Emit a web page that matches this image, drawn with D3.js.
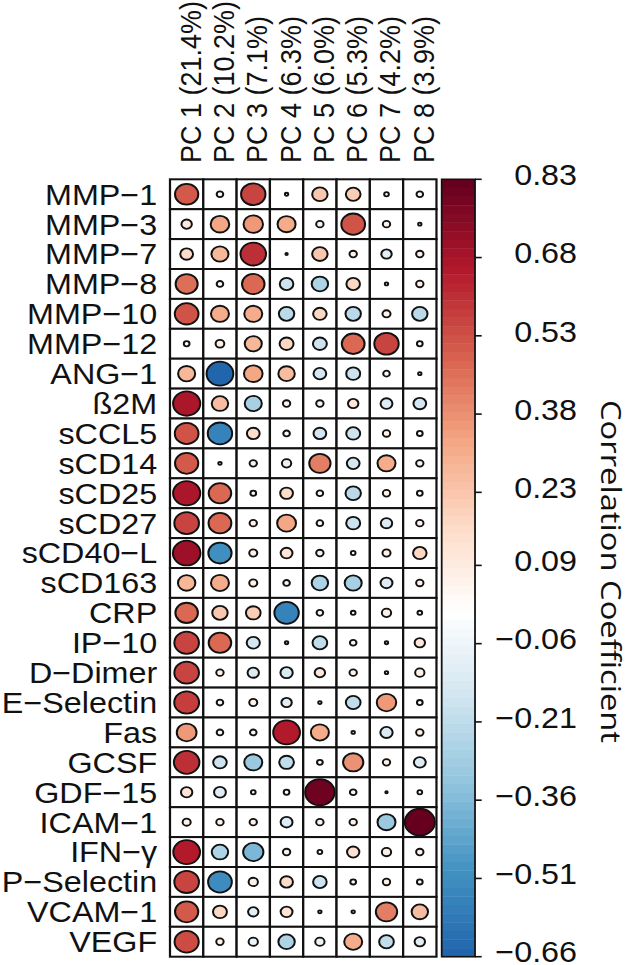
<!DOCTYPE html>
<html lang="en">
<head>
<meta charset="UTF-8">
<title>Marker loadings on principal components</title>
<script src="https://d3js.org/d3.v7.min.js"></script>
<style>
  body { margin: 0; background: #fff; }
  text { font-family: "Liberation Sans", Arial, sans-serif; fill: #111; }
  .cell { fill: #fff; stroke: #111; stroke-width: 2; }
  .dot { stroke: #111; stroke-width: 1.8; }
  .cbar-box { fill: none; stroke: #111; stroke-width: 1.6; }
  .cbar-tick { stroke: #111; stroke-width: 1.6; }
  .label { font-size: 29px; }
  .col-label { font-size: 27px; }
  .cbar-title { font-family: "Open Sans", sans-serif; font-size: 24px; }
</style>
</head>
<body>
<div id="chart"></div>
<script>
// markers (rows) and components (columns)
const markers = ["MMP\u22121", "MMP\u22123", "MMP\u22127", "MMP\u22128", "MMP\u221210", "MMP\u221212",
  "ANG\u22121", "\u00df2M", "sCCL5", "sCD14", "sCD25", "sCD27", "sCD40\u2212L", "sCD163", "CRP",
  "IP\u221210", "D\u2212Dimer", "E\u2212Selectin", "Fas", "GCSF", "GDF\u221215", "ICAM\u22121",
  "IFN\u2212\u03b3", "P\u2212Selectin", "VCAM\u22121", "VEGF"];
const components = ["PC 1 (21.4%)", "PC 2 (10.2%)", "PC 3 (7.1%)", "PC 4 (6.3%)",
  "PC 5 (6.0%)", "PC 6 (5.3%)", "PC 7 (4.2%)", "PC 8 (3.9%)"];

// correlation of each marker with each component
const pc1 = [0.50, 0.10, 0.15, 0.45, 0.52, 0.03, 0.27, 0.68, 0.52, 0.50, 0.68, 0.56, 0.70, 0.28, 0.47, 0.56, 0.56, 0.57, 0.36, 0.60, 0.12, 0.06, 0.66, 0.56, 0.50, 0.54];
const pc2 = [0.04, 0.32, 0.27, 0.04, 0.30, 0.07, -0.66, 0.25, -0.55, 0.01, 0.47, 0.48, -0.50, 0.30, 0.22, 0.47, 0.05, 0.04, 0.04, -0.17, -0.13, 0.05, -0.25, -0.52, 0.18, 0.05];
const pc3 = [0.55, 0.35, 0.60, 0.47, 0.30, 0.27, 0.32, -0.27, 0.15, 0.05, 0.03, 0.05, 0.06, 0.06, 0.20, -0.16, -0.12, 0.06, 0.04, -0.30, 0.02, 0.05, -0.38, 0.08, -0.10, -0.08];
const pc4 = [0.01, 0.30, 0.005, -0.17, -0.22, 0.18, 0.25, 0.05, 0.04, -0.08, 0.15, 0.33, 0.13, 0.04, -0.55, 0.01, -0.14, -0.10, 0.66, -0.20, 0.03, -0.13, 0.05, 0.15, 0.13, -0.25];
const pc5 = [0.22, 0.05, 0.22, -0.25, 0.17, -0.18, -0.15, 0.05, -0.15, 0.42, 0.04, 0.04, 0.05, -0.25, 0.04, -0.20, 0.10, 0.01, 0.30, 0.03, 0.80, 0.05, 0.02, -0.17, 0.01, -0.08];
const pc6 = [0.20, 0.52, 0.05, 0.17, -0.22, 0.48, -0.18, 0.10, -0.18, -0.15, -0.22, -0.18, 0.02, -0.27, 0.02, 0.04, 0.05, -0.20, 0.01, 0.38, 0.04, 0.05, 0.14, 0.03, 0.01, 0.30];
const pc7 = [0.02, 0.05, -0.10, 0.01, 0.06, 0.55, 0.04, -0.13, 0.05, 0.30, 0.05, -0.12, 0.06, -0.13, 0.08, 0.01, 0.01, 0.35, -0.14, 0.05, 0.005, -0.30, 0.08, 0.05, 0.42, -0.20];
const pc8 = [0.04, 0.01, 0.05, 0.05, -0.22, 0.03, 0.01, -0.15, 0.03, 0.05, 0.03, 0.05, 0.17, 0.05, 0.02, 0.10, 0.08, 0.03, 0.05, -0.13, 0.02, 0.83, 0.05, 0.03, 0.25, -0.10];

// colour legend
const tickValues = [0.83, 0.68, 0.53, 0.38, 0.23, 0.09, -0.06, -0.21, -0.36, -0.51, -0.66];
const tickLabels = ["0.83", "0.68", "0.53", "0.38", "0.23", "0.09", "\u22120.06", "\u22120.21", "\u22120.36", "\u22120.51", "\u22120.66"];

const series = [pc1, pc2, pc3, pc4, pc5, pc6, pc7, pc8];
const cells = [];
series.forEach((vals, j) => vals.forEach((v, i) => cells.push({ row: markers[i], col: components[j], value: v })));

// the original picture is a bit wider than tall, so draw in square units and stretch
const sx = 1.114;
const cell = 29.9;
const gridLeft = 152.6, gridTop = 179.3;
const gridW = cell * components.length, gridH = cell * markers.length;

const vmin = d3.min(series.flat()), vmax = d3.max(series.flat());
const zoom = 1 / Math.max(Math.abs(vmin), Math.abs(vmax));

// corrplot style RdBu ramp, blue for -1 up to dark red for +1
const stops = ["#053061", "#2166AC", "#4393C3", "#92C5DE", "#D1E5F0", "#FFFFFF",
  "#FDDBC7", "#F4A582", "#D6604D", "#B2182B", "#67001F"];
const ramp = d3.scaleLinear().domain(d3.range(11).map(i => i / 10)).range(stops).interpolate(d3.interpolateRgb);
const N = 100;
const col = d3.range(N).map(i => ramp(i / (N - 1)));
const colorIndex = u => Math.max(1, Math.ceil((u + 1) * N / 2)) - 1;

const x = d3.scaleBand().domain(components).range([gridLeft, gridLeft + gridW]);
const y = d3.scaleBand().domain(markers).range([gridTop, gridTop + gridH]);

const svg = d3.select("#chart").append("svg")
  .attr("width", 629)
  .attr("height", 965);

const g = svg.append("g").attr("transform", `scale(${sx},1)`);

// cells
g.selectAll(".cell")
  .data(cells)
  .enter().append("rect")
  .attr("class", "cell")
  .attr("x", d => x(d.col))
  .attr("y", d => y(d.row))
  .attr("width", x.bandwidth())
  .attr("height", y.bandwidth());

// circles, area proportional to |r|
g.selectAll(".dot")
  .data(cells)
  .enter().append("circle")
  .attr("class", "dot")
  .attr("cx", d => x(d.col) + x.bandwidth() / 2)
  .attr("cy", d => y(d.row) + y.bandwidth() / 2)
  .attr("r", d => 0.9 * Math.sqrt(Math.abs(d.value * zoom)) / 2 * cell)
  .attr("fill", d => col[colorIndex(d.value * zoom)]);

// row labels
g.selectAll(".row-label")
  .data(markers)
  .enter().append("text")
  .attr("class", "label")
  .attr("x", gridLeft - 11.5)
  .attr("y", d => y(d) + y.bandwidth() / 2)
  .attr("dy", "0.36em")
  .attr("text-anchor", "end")
  .text(d => d);

// column labels
g.selectAll(".col-label")
  .data(components)
  .enter().append("text")
  .attr("class", "col-label")
  .attr("transform", d => `translate(${x(d) + x.bandwidth() / 2 + 12.5},163) rotate(-90)`)
  .attr("text-anchor", "start")
  .text(d => d);

// colour bar
const cbLeft = gridLeft + gridW + 4.7, cbW = cell;
const cy = d3.scaleLinear().domain([vmin, vmax]).range([gridTop + gridH, gridTop]);
const ind1 = colorIndex(vmin * zoom), ind2 = colorIndex(vmax * zoom);
const bands = d3.range(ind1, ind2 + 1);
const bandH = gridH / bands.length;

g.selectAll(".band")
  .data(bands)
  .enter().append("rect")
  .attr("x", cbLeft)
  .attr("y", (d, i) => gridTop + gridH - (i + 1) * bandH)
  .attr("width", cbW)
  .attr("height", bandH + 0.4)
  .attr("fill", d => col[d]);

g.append("rect")
  .attr("class", "cbar-box")
  .attr("x", cbLeft)
  .attr("y", gridTop)
  .attr("width", cbW)
  .attr("height", gridH);

g.selectAll(".cbar-tick")
  .data(tickValues)
  .enter().append("line")
  .attr("class", "cbar-tick")
  .attr("x1", cbLeft + cbW)
  .attr("x2", cbLeft + cbW + 6)
  .attr("y1", d => cy(d))
  .attr("y2", d => cy(d));

g.selectAll(".cbar-label")
  .data(tickValues)
  .enter().append("text")
  .attr("class", "label")
  .attr("x", 518)
  .attr("y", d => cy(d))
  .attr("dy", "0.2em")
  .attr("text-anchor", "end")
  .text((d, i) => tickLabels[i]);

g.append("text")
  .attr("class", "cbar-title")
  .attr("transform", "translate(539.5,571.5) rotate(90)")
  .attr("text-anchor", "middle")
  .attr("textLength", 343)
  .attr("lengthAdjust", "spacingAndGlyphs")
  .text("Correlation Coefficient");
</script>
</body>
</html>
